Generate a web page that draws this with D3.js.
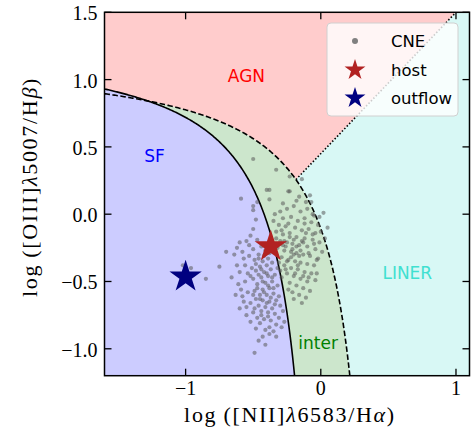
<!DOCTYPE html>
<html><head><meta charset="utf-8">
<script src="https://cdn.jsdelivr.net/npm/d3@7"></script>
<style>body{margin:0;background:#fff}svg{display:block}</style>
</head><body>
<svg id="c" width="473" height="441"></svg>
<script>
// ---- data ----
const xDomain = [-1.6, 1.1];
const yDomain = [-1.2, 1.5];
const xTicks = [-1, 0, 1];
const xTickLabels = ["\u22121", "0", "1"];
const yTicks = [-1.0, -0.5, 0.0, 0.5, 1.0, 1.5];
const yTickLabels = ["\u22121.0", "\u22120.5", "0.0", "0.5", "1.0", "1.5"];
const legendLabels = ["CNE", "host", "outflow"];
const regionLabels = ["AGN", "SF", "LINER", "inter"];
const regionLabelPos = [[-0.55, 1.03], [-1.23, 0.43], [0.64, -0.44], [-0.02, -0.96]];
const hostPoint = [-0.37, -0.24];
const outflowPoint = [-1.0, -0.465];
const cneX = [
 -0.60,-0.55,-0.52,-0.47,-0.44,-0.50,-0.41,-0.46,-0.53,-0.39,-0.43,-0.49,-0.57,-0.36,-0.40,-0.45,-0.51,-0.60,-0.54,-0.48,
 -0.42,-0.37,-0.34,-0.39,-0.44,-0.50,-0.56,-0.47,-0.41,-0.36,-0.32,-0.38,-0.43,-0.49,-0.54,-0.59,-0.45,-0.40,-0.35,-0.31,
 -0.33,-0.38,-0.43,-0.48,-0.52,-0.57,-0.46,-0.41,-0.36,-0.30,-0.28,-0.34,-0.39,-0.44,-0.50,-0.55,-0.47,-0.42,-0.37,-0.31,
 -0.27,-0.33,-0.38,-0.45,-0.52,-0.41,-0.35,-0.29,-0.48,-0.62,-0.58,-0.64,-0.53,-0.56,-0.62,-0.66,-0.61,-0.58,-0.63,-0.55,
 -0.60,-0.46,-0.42,-0.38,-0.48,-0.44,-0.40,-0.36,-0.46,-0.52,-0.43,-0.39,-0.35,-0.47,-0.42,-0.37,-0.50,-0.45,-0.40,-0.34,
 -0.49,-0.44,-0.39,-0.46,-0.43,-0.38,-0.33,-0.49,-0.41,-1.02,-0.96,-0.85,-0.75,-0.70,-0.59,-0.47,-0.50,-0.50,-0.48,-0.50,
 -0.50,-0.33,-0.23,-0.16,-0.14,-0.40,-0.38,-0.38,-0.08,-0.07,0.02,0.05,-0.23,-0.24,
 -0.30,-0.25,-0.20,-0.15,-0.10,-0.05,-0.28,-0.22,-0.17,-0.12,-0.07,-0.02,-0.31,-0.26,-0.19,-0.14,-0.09,-0.04,-0.33,-0.28,
 -0.23,-0.18,-0.12,-0.06,-0.01,-0.30,-0.25,-0.21,-0.16,-0.10,-0.04,-0.32,-0.27,-0.22,-0.18,-0.13,-0.08,-0.02,-0.29,-0.24,
 -0.19,-0.15,-0.10,-0.05,-0.27,-0.22,-0.17,-0.12,-0.07,-0.25,-0.20,-0.15,-0.10,-0.23,-0.18,-0.13,-0.08,-0.21,-0.16,
 -0.33,-0.29,-0.24,-0.20,-0.15,-0.11,-0.26,-0.22,-0.17,-0.13,-0.09,-0.05,-0.03,0.01,-0.28,-0.18,-0.11,-0.35,-0.34,-0.26,
 -0.19,-0.11,-0.14,-0.20,-0.24,-0.29,-0.31,-0.27,-0.21,-0.16,-0.12,-0.06,-0.30,-0.25,-0.20,-0.14,-0.18,-0.23,-0.28,-0.32,
 -0.01,0.03,-0.04,-0.09,-0.13,-0.03,0.00,-0.06
];
const cneY = [
 -0.21,-0.20,-0.16,-0.19,-0.24,-0.26,-0.27,-0.30,-0.31,-0.33,-0.35,-0.34,-0.33,-0.36,-0.38,-0.39,-0.40,-0.43,-0.44,-0.42,
 -0.43,-0.41,-0.45,-0.46,-0.47,-0.48,-0.50,-0.52,-0.51,-0.50,-0.53,-0.55,-0.56,-0.57,-0.58,-0.56,-0.60,-0.60,-0.59,-0.61,
 -0.64,-0.65,-0.64,-0.63,-0.66,-0.65,-0.68,-0.69,-0.70,-0.68,-0.72,-0.74,-0.73,-0.72,-0.73,-0.75,-0.77,-0.78,-0.79,-0.77,
 -0.80,-0.82,-0.84,-0.81,-0.80,-0.86,-0.87,-0.84,-0.85,-0.25,-0.28,-0.30,-0.23,-0.38,-0.38,-0.47,-0.52,-0.61,-0.60,-0.69,
 -0.70,-0.33,-0.31,-0.29,-0.37,-0.41,-0.44,-0.47,-0.45,-0.46,-0.50,-0.53,-0.55,-0.55,-0.58,-0.62,-0.60,-0.63,-0.66,-0.67,
 -0.70,-0.75,-0.76,-0.94,-0.91,-0.89,-0.91,-1.03,-0.97,-0.38,-0.40,-0.48,-0.39,-0.28,0.115,0.09,0.06,0.03,-0.04,-0.11,
 0.41,0.33,0.17,0.13,0.26,0.18,0.18,0.11,0.14,0.09,0.01,-0.10,0.28,0.17,
 0.02,0.04,0.06,0.02,0.04,-0.01,-0.03,-0.02,-0.05,-0.03,-0.06,-0.08,-0.08,-0.09,-0.10,-0.12,-0.11,-0.14,-0.13,-0.15,
 -0.14,-0.17,-0.18,-0.19,-0.21,-0.20,-0.21,-0.22,-0.23,-0.24,-0.26,-0.25,-0.27,-0.28,-0.29,-0.30,-0.31,-0.33,-0.32,-0.34,
 -0.35,-0.36,-0.37,-0.38,-0.38,-0.40,-0.41,-0.43,-0.44,-0.44,-0.46,-0.48,-0.50,-0.51,-0.53,-0.55,-0.57,-0.58,-0.60,
 -0.18,-0.12,-0.07,-0.19,-0.27,-0.14,-0.24,-0.32,-0.38,-0.46,-0.29,-0.22,-0.44,-0.28,0.08,0.10,0.09,-0.05,0.00,-0.41,
 -0.44,-0.62,-0.66,-0.63,-0.56,-0.47,-0.36,-0.20,-0.26,-0.31,-0.07,-0.15,-0.42,-0.35,-0.30,-0.20,-0.24,-0.17,-0.23,-0.40,
 -0.02,-0.18,-0.49,-0.47,-0.21,-0.34,-0.13,0.00
];

// ---- layout ----
const svg = d3.select("#c");
const L = 104.5, R = 469.5, T = 12.3, B = 375.7;
const x = d3.scaleLinear().domain(xDomain).range([L, R]);
const y = d3.scaleLinear().domain(yDomain).range([B, T]);

// demarcation curves (Kauffmann 2003, Kewley 2001, Schawinski 2007)
const kauf = v => 0.61 / (v - 0.05) + 1.3;
const kew = v => 0.61 / (v - 0.47) + 1.19;
const scha = v => 1.05 * v + 0.45;
const kaufEnd = 0.05 + 0.61 / (yDomain[0] - 1.3);
const kewEnd = 0.47 + 0.61 / (yDomain[0] - 1.19);
const qa = 1.05, qb = -(0.74 + 1.05 * 0.47), qc = 0.74 * 0.47 - 0.61;
const xInt = (-qb - Math.sqrt(qb * qb - 4 * qa * qc)) / (2 * qa);
const schaEnd = (yDomain[1] - 0.45) / 1.05;

const samp = (f, a, b, n = 200) => d3.range(n + 1).map(i => { const v = a + (b - a) * i / n; return [v, f(v)]; });
const kaufPts = samp(kauf, xDomain[0], kaufEnd);
const kewPts = samp(kew, xDomain[0], kewEnd);
const kewPtsA = samp(kew, xDomain[0], xInt);
const kewPtsB = samp(kew, xInt, kewEnd);
const schaPts = [[xInt, scha(xInt)], [schaEnd, yDomain[1]]];

const line = d3.line().x(d => x(d[0])).y(d => y(d[1]));
svg.append("defs").append("clipPath").attr("id", "pc")
  .append("rect").attr("x", L).attr("y", T).attr("width", R - L).attr("height", B - T);
const g = svg.append("g").attr("clip-path", "url(#pc)");

const sfPoly = [...kaufPts, [xDomain[0], yDomain[0]]];
const compPoly = [...kaufPts, ...kewPts.slice().reverse()];
const agnPoly = [...kewPtsA, ...schaPts, [xDomain[0], yDomain[1]]];
const linerPoly = [...kewPtsB, [xDomain[1], yDomain[0]], [xDomain[1], yDomain[1]], ...schaPts.slice().reverse()];

g.append("path").attr("d", line(agnPoly) + "Z").attr("fill", "#ffcccc");
g.append("path").attr("d", line(linerPoly) + "Z").attr("fill", "#d8f8f5");
g.append("path").attr("d", line(compPoly) + "Z").attr("fill", "#cce6cc");
g.append("path").attr("d", line(sfPoly) + "Z").attr("fill", "#ccccff");

g.append("path").attr("d", line(kaufPts)).attr("fill", "none").attr("stroke", "#000").attr("stroke-width", 1.6);
g.append("path").attr("d", line(kewPts)).attr("fill", "none").attr("stroke", "#000").attr("stroke-width", 1.6).attr("stroke-dasharray", "5.5,2.5");
g.append("path").attr("d", line(schaPts)).attr("fill", "none").attr("stroke", "#000").attr("stroke-width", 1.6).attr("stroke-dasharray", "1.5,2");

// region labels
const labelColors = ["red", "blue", "turquoise", "green"];
regionLabels.forEach((t, i) => {
  svg.append("text").attr("x", x(regionLabelPos[i][0])).attr("y", y(regionLabelPos[i][1]))
    .attr("text-anchor", "middle").attr("dominant-baseline", "central")
    .attr("font-family", "DejaVu Sans").attr("font-size", 17).attr("fill", labelColors[i]).text(t);
});

// CNE points
const cne = cneX.map((v, i) => [v, cneY[i]]);
g.selectAll("circle.cne").data(cne).enter().append("circle")
  .attr("cx", d => x(d[0])).attr("cy", d => y(d[1])).attr("r", 2.1)
  .attr("fill", "#5a5a5a").attr("fill-opacity", 0.55);

// stars
const starSym = Rad => d3.symbol(d3.symbolStar, Rad * Rad / 0.8908130915292852)();
svg.append("path").attr("d", starSym(17)).attr("fill", "firebrick")
  .attr("transform", `translate(${x(hostPoint[0])},${y(hostPoint[1])})`);
svg.append("path").attr("d", starSym(17)).attr("fill", "navy")
  .attr("transform", `translate(${x(outflowPoint[0])},${y(outflowPoint[1])})`);

// frame + ticks
svg.append("rect").attr("x", L).attr("y", T).attr("width", R - L).attr("height", B - T)
  .attr("fill", "none").attr("stroke", "#000").attr("stroke-width", 1.5);
const tl = 7;
const tk = svg.append("g").attr("stroke", "#000").attr("stroke-width", 1.3);
xTicks.forEach(v => {
  tk.append("line").attr("x1", x(v)).attr("x2", x(v)).attr("y1", B).attr("y2", B - tl);
  tk.append("line").attr("x1", x(v)).attr("x2", x(v)).attr("y1", T).attr("y2", T + tl);
});
yTicks.forEach(v => {
  tk.append("line").attr("y1", y(v)).attr("y2", y(v)).attr("x1", L).attr("x2", L + tl);
  tk.append("line").attr("y1", y(v)).attr("y2", y(v)).attr("x1", R).attr("x2", R - tl);
});
const serif = "Liberation Serif";
xTicks.forEach((v, i) => {
  svg.append("text").attr("x", x(v)).attr("y", B + 19).attr("text-anchor", "middle")
    .attr("font-family", serif).attr("font-size", 20).attr("fill", "#000").text(xTickLabels[i]);
});
yTicks.forEach((v, i) => {
  svg.append("text").attr("x", L - 7).attr("y", y(v) + 1).attr("text-anchor", "end").attr("dominant-baseline", "central")
    .attr("font-family", serif).attr("font-size", 20).attr("fill", "#000").text(yTickLabels[i]);
});

// axis labels
const xl = svg.append("text").attr("x", (L + R) / 2 + 3).attr("y", 422).attr("text-anchor", "middle")
  .attr("font-family", serif).attr("font-size", 22).attr("letter-spacing", 1.7).attr("fill", "#000");
xl.append("tspan").text("log\u2009([NII]");
xl.append("tspan").attr("font-style", "italic").text("\u03bb");
xl.append("tspan").text("6583/H");
xl.append("tspan").attr("font-style", "italic").text("\u03b1");
xl.append("tspan").text(")");
const yl = svg.append("text").attr("transform", `translate(37,${(T + B) / 2 - 7}) rotate(-90)`).attr("text-anchor", "middle")
  .attr("font-family", serif).attr("font-size", 22).attr("letter-spacing", 1.7).attr("fill", "#000");
yl.append("tspan").text("log\u2009([OIII]");
yl.append("tspan").attr("font-style", "italic").text("\u03bb");
yl.append("tspan").text("5007/H");
yl.append("tspan").attr("font-style", "italic").text("\u03b2");
yl.append("tspan").text(")");

// legend
const lg = svg.append("g");
lg.append("rect").attr("x", 327).attr("y", 23).attr("width", 131).attr("height", 93).attr("rx", 4)
  .attr("fill", "#fff").attr("fill-opacity", 0.8).attr("stroke", "#d0d0d0").attr("stroke-width", 1);
const rowY = [41, 70, 98];
lg.append("circle").attr("cx", 355).attr("cy", rowY[0]).attr("r", 3).attr("fill", "#808080");
lg.append("path").attr("d", starSym(11)).attr("fill", "firebrick").attr("transform", `translate(355,${rowY[1]})`);
lg.append("path").attr("d", starSym(11)).attr("fill", "navy").attr("transform", `translate(355,${rowY[2]})`);
legendLabels.forEach((t, i) => {
  lg.append("text").attr("x", 391).attr("y", rowY[i]).attr("dominant-baseline", "central")
    .attr("font-family", "DejaVu Sans").attr("font-size", 16.5).attr("fill", "#000").text(t);
});
</script>
</body></html>
